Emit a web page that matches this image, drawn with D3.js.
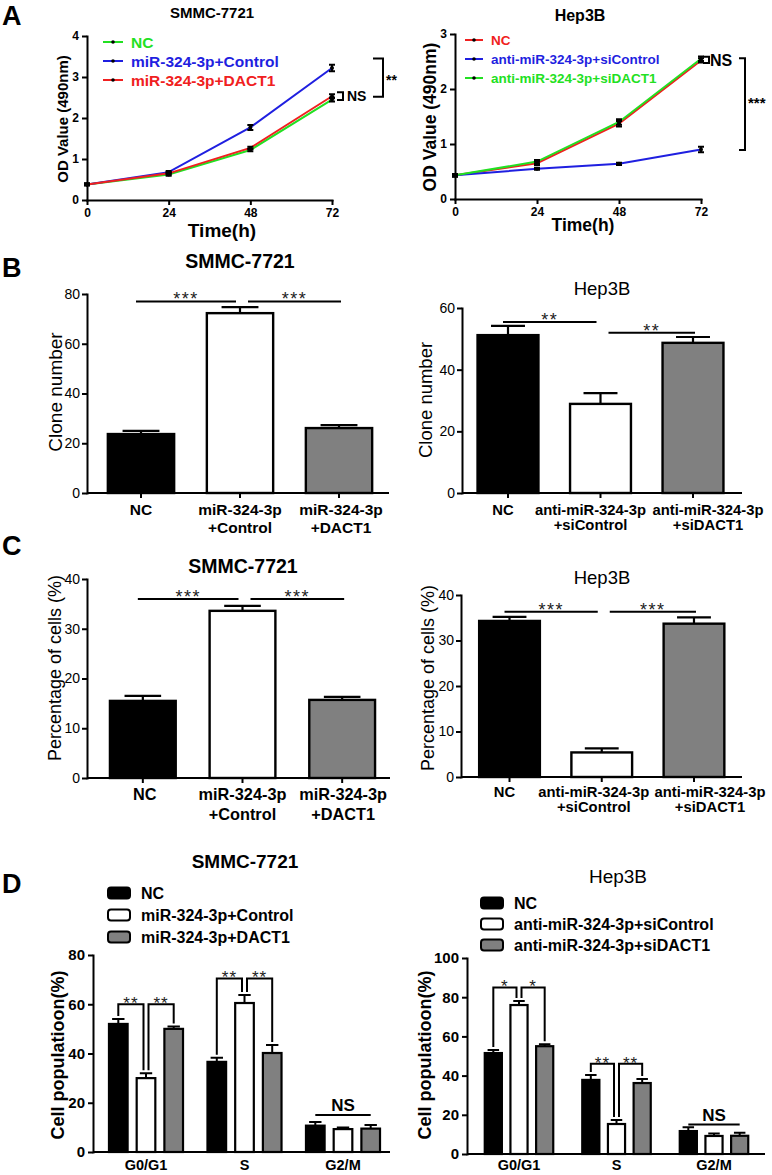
<!DOCTYPE html>
<html><head><meta charset="utf-8">
<script src="https://cdn.jsdelivr.net/npm/d3@7"></script>
<style>body{margin:0;background:#fff}svg{display:block}</style>
</head><body>
<svg id="fig" width="772" height="1175"></svg>
<script>
// ---------------- DATA ----------------
// Panel A (CCK-8 growth curves)
const timePoints = [0, 24, 48, 72];
const aSmmcNames = ["NC", "miR-324-3p+Control", "miR-324-3p+DACT1"];
const aSmmcNC = [0.38, 0.62, 1.22, 2.45];
const aSmmcControl = [0.38, 0.68, 1.77, 3.22];
const aSmmcDACT1 = [0.38, 0.65, 1.27, 2.53];
const aSmmcNCErr = [0.02, 0.03, 0.03, 0.05];
const aSmmcControlErr = [0.02, 0.03, 0.06, 0.08];
const aSmmcDACT1Err = [0.02, 0.03, 0.03, 0.05];
const aHepNames = ["NC", "anti-miR-324-3p+siControl", "anti-miR-324-3p+siDACT1"];
const aHepNC = [0.43, 0.65, 1.37, 2.52];
const aHepSiControl = [0.43, 0.55, 0.64, 0.90];
const aHepSiDACT1 = [0.43, 0.68, 1.40, 2.55];
const aHepNCErr = [0.02, 0.03, 0.05, 0.04];
const aHepSiControlErr = [0.02, 0.02, 0.02, 0.05];
const aHepSiDACT1Err = [0.02, 0.03, 0.05, 0.04];
const aSmmcTicks = [0, 1, 2, 3, 4];
const aHepTicks = [0, 1, 2, 3];

// Panels B & C (single bars)
const smmcGroups = [["NC"], ["miR-324-3p", "+Control"], ["miR-324-3p", "+DACT1"]];
const hepGroups = [["NC"], ["anti-miR-324-3p", "+siControl"], ["anti-miR-324-3p", "+siDACT1"]];
const bSmmcValues = [23.7, 72.3, 26.1];
const bSmmcErrors = [1.3, 2.4, 1.2];
const bHepValues = [51.2, 28.9, 48.7];
const bHepErrors = [3.0, 3.5, 1.9];
const cSmmcValues = [15.5, 33.6, 15.7];
const cSmmcErrors = [1.0, 1.0, 0.6];
const cHepValues = [34.3, 5.4, 33.7];
const cHepErrors = [0.9, 0.9, 1.4];
const bSmmcTicks = [0, 20, 40, 60, 80];
const bHepTicks = [0, 20, 40, 60];
const cTicks = [0, 10, 20, 30, 40];
const bSmmcSig = [{a: 0, b: 1, level: 77, label: "***"}, {a: 1, b: 2, level: 77, label: "***"}];
const bHepSig = [{a: 0, b: 1, level: 55.5, label: "**"}, {a: 1, b: 2, level: 52, label: "**"}];
const cSmmcSig = [{a: 0, b: 1, level: 36, label: "***"}, {a: 1, b: 2, level: 36, label: "***"}];
const cHepSig = [{a: 0, b: 1, level: 36.3, label: "***"}, {a: 1, b: 2, level: 36.3, label: "***"}];

// Panel D (cell cycle)
const phases = ["G0/G1", "S", "G2/M"];
const dSmmcNames = ["NC", "miR-324-3p+Control", "miR-324-3p+DACT1"];
const dSmmcNC = [52, 36.6, 10.7];
const dSmmcControl = [30, 60.5, 9.3];
const dSmmcDACT1 = [50, 40.2, 9.5];
const dSmmcNCErr = [2, 1.7, 1.5];
const dSmmcControlErr = [2, 3.3, 0.6];
const dSmmcDACT1Err = [1, 3.3, 1.5];
const dHepNames = ["NC", "anti-miR-324-3p+siControl", "anti-miR-324-3p+siDACT1"];
const dHepNC = [51.5, 37.8, 11.7];
const dHepSiControl = [76, 15.3, 9.2];
const dHepSiDACT1 = [55, 36.2, 9.3];
const dHepNCErr = [1.5, 2.5, 2.0];
const dHepSiControlErr = [2, 2.0, 1.3];
const dHepSiDACT1Err = [1, 2.1, 1.6];
const dSmmcTicks = [0, 20, 40, 60, 80];
const dHepTicks = [0, 20, 40, 60, 80, 100];
const dSmmcSig = [
  {phase: 0, a: 0, b: 1, level: 60, label: "**"}, {phase: 0, a: 1, b: 2, level: 60, label: "**"},
  {phase: 1, a: 0, b: 1, level: 70.5, label: "**"}, {phase: 1, a: 1, b: 2, level: 70.5, label: "**"}];
const dHepSig = [
  {phase: 0, a: 0, b: 1, level: 85, label: "*"}, {phase: 0, a: 1, b: 2, level: 85, label: "*"},
  {phase: 1, a: 0, b: 1, level: 46, label: "**"}, {phase: 1, a: 1, b: 2, level: 46, label: "**"}];
const dSmmcNS = {phase: 2, level: 15, label: "NS"};
const dHepNS = {phase: 2, level: 15, label: "NS"};

const lineColors = {green: "#22e022", blue: "#1f1fe0", red: "#f02020"};
const barFills = ["#000000", "#ffffff", "#808080"];

// ---------------- DRAWING ----------------
const FONT = '"Liberation Sans", Arial, Helvetica, sans-serif';
const svg = d3.select("#fig");
const intFmt = d3.format("d");

function text(x, y, s, size, weight, anchor, fill, rotate) {
  const t = svg.append("text").attr("font-family", FONT).attr("font-size", size)
    .attr("font-weight", weight || "bold").attr("text-anchor", anchor || "middle")
    .attr("fill", fill || "#000").text(s);
  if (rotate) t.attr("transform", `translate(${x},${y}) rotate(-90)`).attr("dominant-baseline", "central");
  else t.attr("x", x).attr("y", y);
  return t;
}
function styleAxis(a, size, weight) {
  a.attr("font-family", FONT).attr("font-size", size).attr("font-weight", weight);
  a.select(".domain").attr("stroke", "#000").attr("stroke-width", 2).attr("stroke-linecap", "square");
  a.selectAll(".tick line").attr("stroke", "#000").attr("stroke-width", 2);
  a.selectAll(".tick text").attr("fill", "#000");
}
function path(d, w) {
  return svg.append("path").attr("d", d).attr("fill", "none").attr("stroke", "#000").attr("stroke-width", w || 2);
}

// ---- Line panels (A) ----
function linePanel(cfg) {
  const x = d3.scaleLinear().domain(d3.extent(timePoints)).range(cfg.xRange);
  const y = d3.scaleLinear().domain(d3.extent(cfg.yTicks)).range(cfg.yRange);
  const xa = svg.append("g").attr("transform", `translate(0,${cfg.yRange[0]})`)
    .call(d3.axisBottom(x).tickValues(timePoints).tickFormat(intFmt).tickSize(5).tickSizeOuter(0).tickPadding(3));
  styleAxis(xa, 12, "bold");
  const ya = svg.append("g").attr("transform", `translate(${cfg.xRange[0]},0)`)
    .call(d3.axisLeft(y).tickValues(cfg.yTicks).tickFormat(intFmt).tickSize(5).tickSizeOuter(0).tickPadding(3));
  styleAxis(ya, 12, "bold");
  const line = d3.line().x((d, i) => x(timePoints[i])).y(d => y(d));
  cfg.series.forEach(s => {
    svg.append("path").datum(s.values).attr("d", line).attr("fill", "none")
      .attr("stroke", s.color).attr("stroke-width", 2);
  });
  cfg.series.forEach(s => {
    s.values.forEach((v, i) => {
      const cx = x(timePoints[i]), e = s.errors[i];
      path(`M${cx},${y(v - e)}V${y(v + e)}M${cx - 3},${y(v + e)}H${cx + 3}M${cx - 3},${y(v - e)}H${cx + 3}`, 2);
      svg.append("circle").attr("cx", cx).attr("cy", y(v)).attr("r", 2).attr("fill", "#000");
    });
  });
  const L = cfg.legend;
  cfg.series.forEach((s, i) => {
    const ly = L.y0 + i * L.dy;
    svg.append("line").attr("x1", L.x).attr("x2", L.x + L.w).attr("y1", ly).attr("y2", ly)
      .attr("stroke", s.color).attr("stroke-width", 2);
    svg.append("circle").attr("cx", L.x + L.w / 2).attr("cy", ly).attr("r", 1.8).attr("fill", "#000");
    text(L.x + L.w + 8, ly + L.size * 0.36, s.name, L.size, "bold", "start", s.color);
  });
  text(cfg.title.x, cfg.title.y, cfg.title.text, cfg.title.size, "bold");
  text(cfg.xLabel.x, cfg.xLabel.y, "Time(h)", cfg.xLabel.size, "bold");
  text(cfg.yLabel.x, cfg.yLabel.y, "OD Value (490nm)", cfg.yLabel.size, "bold", "middle", "#000", true);
  return {x, y};
}

function bracket(xArm, xV, yTop, yBot) {
  path(`M${xArm},${yTop}H${xV}V${yBot}H${xArm}`, 2);
}

// A left
{
  const s = linePanel({
    xRange: [87, 332], yRange: [200, 36], yTicks: aSmmcTicks,
    series: [
      {name: aSmmcNames[0], values: aSmmcNC, errors: aSmmcNCErr, color: lineColors.green},
      {name: aSmmcNames[1], values: aSmmcControl, errors: aSmmcControlErr, color: lineColors.blue},
      {name: aSmmcNames[2], values: aSmmcDACT1, errors: aSmmcDACT1Err, color: lineColors.red}],
    legend: {x: 103, w: 20, y0: 42, dy: 19, size: 15.5},
    title: {x: 212, y: 18, text: "SMMC-7721", size: 15},
    xLabel: {x: 222, y: 237, size: 19},
    yLabel: {x: 62, y: 119, size: 15}
  });
  const xe = s.x(72);
  bracket(xe + 5, xe + 11, s.y(2.63), s.y(2.44));
  text(xe + 15, s.y(2.535) + 5, "NS", 14, "bold", "start");
  bracket(xe + 41, xe + 51, s.y(3.45), s.y(2.52));
  text(xe + 54, s.y(2.99) + 8, "**", 14, "bold", "start");
}
// A right
{
  const s = linePanel({
    xRange: [455, 701], yRange: [199, 34], yTicks: aHepTicks,
    series: [
      {name: aHepNames[0], values: aHepNC, errors: aHepNCErr, color: lineColors.red},
      {name: aHepNames[1], values: aHepSiControl, errors: aHepSiControlErr, color: lineColors.blue},
      {name: aHepNames[2], values: aHepSiDACT1, errors: aHepSiDACT1Err, color: lineColors.green}],
    legend: {x: 465, w: 18, y0: 40, dy: 19, size: 13.5},
    title: {x: 580, y: 21, text: "Hep3B", size: 16},
    xLabel: {x: 583, y: 231, size: 17.5},
    yLabel: {x: 430, y: 117, size: 17.5}
  });
  const xe = s.x(72);
  bracket(xe + 2, xe + 8, s.y(2.585), s.y(2.475));
  text(xe + 9, s.y(2.53) + 6, "NS", 16, "bold", "start");
  bracket(xe + 38, xe + 44, s.y(2.56), s.y(0.89));
  text(xe + 47, s.y(1.8) + 8, "***", 15, "bold", "start");
}

// ---- Bar panels (B, C) ----
function barPanel(cfg) {
  const n = cfg.values.length;
  const x = d3.scaleBand().domain(d3.range(n)).range(cfg.xRange).paddingInner(cfg.pad).paddingOuter(cfg.pad / 2);
  const y = d3.scaleLinear().domain(d3.extent(cfg.yTicks)).range(cfg.yRange);
  const bw = x.bandwidth(), y0 = y(0);
  const cx = i => x(i) + bw / 2;
  const ya = svg.append("g").attr("transform", `translate(${cfg.axisX},0)`)
    .call(d3.axisLeft(y).tickValues(cfg.yTicks).tickFormat(intFmt).tickSize(5).tickSizeOuter(0).tickPadding(2));
  styleAxis(ya, cfg.tickSize, "normal");
  const xa = svg.append("g").attr("transform", `translate(0,${y0})`)
    .call(d3.axisBottom(x).tickSize(5).tickSizeOuter(0).tickFormat(""));
  styleAxis(xa, 10, "normal");
  xa.select(".domain").remove();
  path(`M${cfg.axisX},${y0}H${cfg.axisEnd}`, 2);
  // error bars then bars
  cfg.values.forEach((v, i) => {
    const t = y(v + cfg.errors[i]);
    path(`M${cx(i)},${y(v)}V${t}M${cx(i) - bw * 0.27},${t}H${cx(i) + bw * 0.27}`, 2.2);
  });
  svg.append("g").selectAll("rect").data(cfg.values).join("rect")
    .attr("x", (d, i) => x(i) + 1).attr("width", bw - 2)
    .attr("y", d => y(d)).attr("height", d => y0 - y(d))
    .attr("fill", (d, i) => barFills[i]).attr("stroke", "#000").attr("stroke-width", 2.4);
  // category labels
  cfg.cats.forEach((lines, i) => {
    lines.forEach((ln, j) => {
      text(cx(i) + cfg.labelShift[i], y0 + cfg.labelDy + j * cfg.lineGap, ln, cfg.labelSize, "bold");
    });
  });
  // significance lines
  cfg.sig.forEach((s, k) => {
    const x1 = cx(s.a) + (k === 0 ? -5 : 8), x2 = cx(s.b) + (k === 0 ? -4 : 2);
    const ly = y(s.level);
    path(`M${x1},${ly}H${x2}`, 2);
    text((x1 + x2) / 2, ly + 4, s.label, 18, "normal", "middle", "#222").attr("letter-spacing", 1.5);
  });
  text(cfg.title.x, cfg.title.y, cfg.title.text, cfg.title.size, cfg.title.weight);
  text(cfg.yLabel.x, cfg.yLabel.y, cfg.yLabel.text, cfg.yLabel.size, "normal", "middle", "#000", true);
}

barPanel({
  values: bSmmcValues, errors: bSmmcErrors, cats: smmcGroups, yTicks: bSmmcTicks, sig: bSmmcSig,
  xRange: [91.5, 388.5], pad: 0.31, yRange: [493, 294], axisX: 87, axisEnd: 389, tickSize: 14,
  labelShift: [0, 0, 2], labelDy: 22, lineGap: 18, labelSize: 15.5,
  title: {x: 240, y: 268, text: "SMMC-7721", size: 19.5, weight: "bold"},
  yLabel: {x: 55, y: 392, text: "Clone number", size: 19}
});
barPanel({
  values: bHepValues, errors: bHepErrors, cats: hepGroups, yTicks: bHepTicks, sig: bHepSig,
  xRange: [461.75, 739.25], pad: 0.32, yRange: [493, 308], axisX: 462, axisEnd: 742, tickSize: 14,
  labelShift: [-5, -10, 15], labelDy: 22, lineGap: 15, labelSize: 14.8,
  title: {x: 602, y: 295, text: "Hep3B", size: 18.5, weight: "normal"},
  yLabel: {x: 425, y: 400, text: "Clone number", size: 18.5}
});
barPanel({
  values: cSmmcValues, errors: cSmmcErrors, cats: smmcGroups, yTicks: cTicks, sig: cSmmcSig,
  xRange: [93, 392], pad: 0.32, yRange: [778, 579], axisX: 87, axisEnd: 390, tickSize: 14,
  labelShift: [2, 0, 1], labelDy: 22, lineGap: 20, labelSize: 16.3,
  title: {x: 243, y: 573, text: "SMMC-7721", size: 19.5, weight: "bold"},
  yLabel: {x: 55, y: 668, text: "Percentage of cells (%)", size: 18}
});
barPanel({
  values: cHepValues, errors: cHepErrors, cats: hepGroups, yTicks: cTicks, sig: cHepSig,
  xRange: [463.4, 740.1], pad: 0.32, yRange: [777, 595], axisX: 461, axisEnd: 742, tickSize: 14,
  labelShift: [-5, -8, 16], labelDy: 20, lineGap: 15, labelSize: 14.8,
  title: {x: 602, y: 584, text: "Hep3B", size: 18.5, weight: "normal"},
  yLabel: {x: 428, y: 678, text: "Percentage of cells (%)", size: 18}
});

// ---- Grouped bar panels (D) ----
function groupedPanel(cfg) {
  const xg = d3.scaleBand().domain(d3.range(phases.length)).range(cfg.xRange).paddingInner(cfg.pad).paddingOuter(cfg.pad / 2);
  const xs = d3.scaleBand().domain(d3.range(cfg.series.length)).range([0, xg.bandwidth()]).paddingInner(0.255);
  const y = d3.scaleLinear().domain(d3.extent(cfg.yTicks)).range(cfg.yRange);
  const y0 = y(0), bw = xs.bandwidth();
  const cx = (p, s) => xg(p) + xs(s) + bw / 2;
  const ya = svg.append("g").attr("transform", `translate(${cfg.axisX},0)`)
    .call(d3.axisLeft(y).tickValues(cfg.yTicks).tickFormat(intFmt).tickSize(5).tickSizeOuter(0).tickPadding(3));
  styleAxis(ya, 15, "bold");
  path(`M${cfg.axisX},${y0}H${cfg.axisEnd}`, 2);
  phases.forEach((ph, p) => text(xg(p) + xg.bandwidth() / 2, y0 + cfg.labelDy, ph, 14.5, "bold"));
  cfg.series.forEach((s, si) => {
    s.values.forEach((v, p) => {
      const t = y(v + s.errors[p]);
      path(`M${cx(p, si)},${y(v)}V${t}M${cx(p, si) - bw * 0.3},${t}H${cx(p, si) + bw * 0.3}`, 2);
    });
    svg.append("g").selectAll("rect").data(s.values).join("rect")
      .attr("x", (d, p) => xg(p) + xs(si) + 1).attr("width", bw - 2)
      .attr("y", d => y(d)).attr("height", d => y0 - y(d))
      .attr("fill", barFills[si]).attr("stroke", "#000").attr("stroke-width", 2.2);
  });
  // brackets
  const top = (p, si) => y(cfg.series[si].values[p] + cfg.series[si].errors[p]) - 3;
  cfg.sig.forEach(s => {
    const xa = cx(s.phase, s.a) + (s.a === 1 ? 2.5 : 0);
    const xb = cx(s.phase, s.b) - (s.b === 1 ? 2.5 : 0);
    const yt = y(s.level);
    path(`M${xa},${top(s.phase, s.a)}V${yt}H${xb}V${top(s.phase, s.b)}`, 2);
    text((xa + xb) / 2, yt + 5, s.label, 17, "normal", "middle", "#222").attr("letter-spacing", 1);
  });
  const ns = cfg.ns, yn = y(ns.level);
  const n1 = cx(ns.phase, 0), n2 = cx(ns.phase, cfg.series.length - 1);
  path(`M${n1},${yn}H${n2}`, 2);
  text((n1 + n2) / 2, yn - 4, ns.label, 17, "bold");
  // legend
  const L = cfg.legend;
  cfg.series.forEach((s, si) => {
    const ly = L.y0 + si * L.dy;
    svg.append("rect").attr("x", L.x).attr("y", ly - 5.5).attr("width", 22).attr("height", 11).attr("rx", 3)
      .attr("fill", barFills[si]).attr("stroke", "#000").attr("stroke-width", 2);
    text(L.x + 33, ly + 5.5, s.name, 16, "bold", "start");
  });
  text(cfg.title.x, cfg.title.y, cfg.title.text, 19, cfg.title.weight);
  text(cfg.yLabel.x, cfg.yLabel.y, "Cell populatioon(%)", 18, "bold", "middle", "#000", true);
}

groupedPanel({
  series: [
    {name: dSmmcNames[0], values: dSmmcNC, errors: dSmmcNCErr},
    {name: dSmmcNames[1], values: dSmmcControl, errors: dSmmcControlErr},
    {name: dSmmcNames[2], values: dSmmcDACT1, errors: dSmmcDACT1Err}],
  yTicks: dSmmcTicks, sig: dSmmcSig, ns: dSmmcNS, labelDy: 18,
  xRange: [96.75, 392.25], pad: 0.228, yRange: [1152, 955], axisX: 93, axisEnd: 390,
  legend: {x: 108, y0: 893, dy: 22},
  title: {x: 245, y: 868, text: "SMMC-7721", weight: "bold"},
  yLabel: {x: 58, y: 1055}
});
groupedPanel({
  series: [
    {name: dHepNames[0], values: dHepNC, errors: dHepNCErr},
    {name: dHepNames[1], values: dHepSiControl, errors: dHepSiControlErr},
    {name: dHepNames[2], values: dHepSiDACT1, errors: dHepSiDACT1Err}],
  yTicks: dHepTicks, sig: dHepSig, ns: dHepNS, labelDy: 16,
  xRange: [470.25, 762.75], pad: 0.277, yRange: [1154, 958], axisX: 467, axisEnd: 765,
  legend: {x: 481, y0: 903, dy: 21},
  title: {x: 618, y: 883, text: "Hep3B", weight: "normal"},
  yLabel: {x: 425, y: 1055}
});

// panel letters
[["A", 25], ["B", 277], ["C", 555], ["D", 893]].forEach(([l, yy]) => text(2, yy, l, 27, "bold", "start"));
</script>
</body></html>
